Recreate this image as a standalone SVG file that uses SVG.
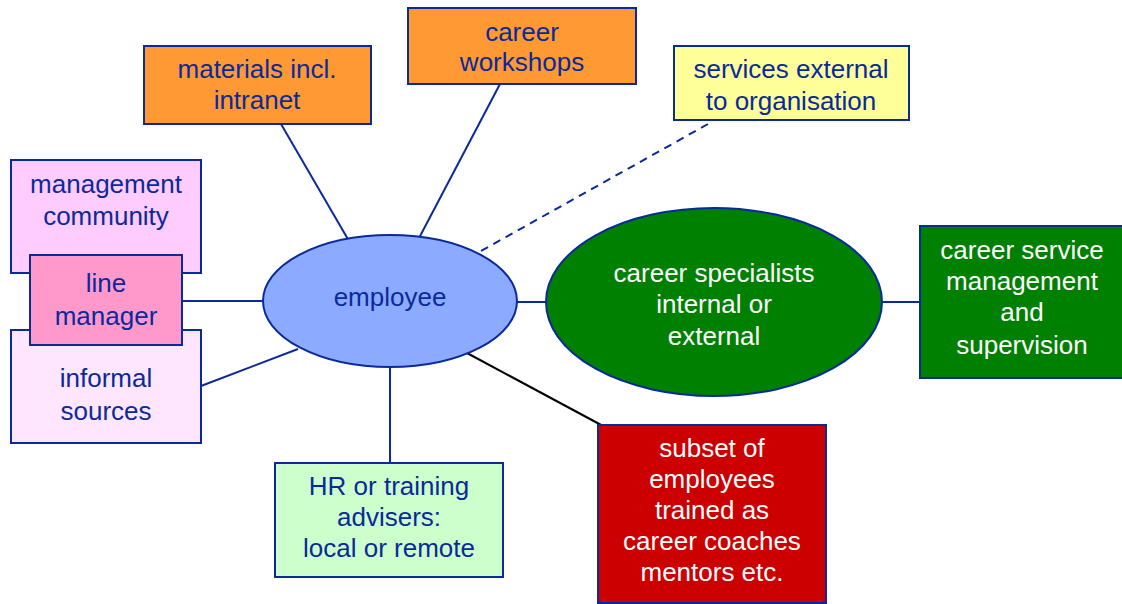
<svg xmlns="http://www.w3.org/2000/svg" width="1122" height="604" viewBox="0 0 1122 604">
<style>
.n{stroke:#0a2a9a;stroke-width:2}
.t{font-family:"Liberation Sans",Arial,sans-serif;font-size:26px;fill:#0a2a9a;text-anchor:middle}
.w{fill:#ffffff}
.c{stroke:#0a2a9a;stroke-width:2;fill:none}
</style>
<rect width="1122" height="604" fill="#ffffff"/>
<g id="connectors">
<line class="c" x1="182" y1="301" x2="264" y2="301"/>
<line class="c" x1="201" y1="386" x2="298" y2="349"/>
<line class="c" x1="281" y1="124" x2="349" y2="241"/>
<line class="c" x1="500" y1="84" x2="418" y2="240"/>
<line class="c" x1="708" y1="124" x2="472" y2="256" stroke-dasharray="8,6"/>
<line class="c" x1="516" y1="302" x2="547" y2="302"/>
<line class="c" x1="881" y1="302" x2="921" y2="302"/>
<line class="c" x1="390" y1="366" x2="390" y2="464"/>
<line x1="467" y1="353" x2="603" y2="426" stroke="#000000" stroke-width="2"/>
</g>
<g id="management-community">
<rect class="n" x="11" y="160" width="190" height="113" fill="#ffccff"/>
<text class="t" x="106" y="193">management</text>
<text class="t" x="106" y="225">community</text>
</g>
<g id="informal-sources">
<rect class="n" x="11" y="330" width="190" height="113" fill="#ffe6ff"/>
<text class="t" x="106" y="387">informal</text>
<text class="t" x="106" y="420">sources</text>
</g>
<g id="line-manager">
<rect class="n" x="30" y="255" width="152" height="90" fill="#ff99cc"/>
<text class="t" x="106" y="292">line</text>
<text class="t" x="106" y="325">manager</text>
</g>
<g id="materials">
<rect class="n" x="144" y="46" width="227" height="78" fill="#ff9933"/>
<text class="t" x="257" y="78">materials incl.</text>
<text class="t" x="257" y="109">intranet</text>
</g>
<g id="workshops">
<rect class="n" x="408" y="8" width="228" height="76" fill="#ff9933"/>
<text class="t" x="522" y="41">career</text>
<text class="t" x="522" y="71">workshops</text>
</g>
<g id="services-external">
<rect class="n" x="674" y="46" width="235" height="74" fill="#ffff99"/>
<text class="t" x="791" y="78">services external</text>
<text class="t" x="791" y="110">to organisation</text>
</g>
<g id="employee">
<ellipse class="n" cx="390" cy="301" rx="127" ry="66" fill="#8caaff"/>
<text class="t" x="390" y="306">employee</text>
</g>
<g id="career-specialists">
<ellipse class="n" cx="714" cy="302" rx="168" ry="94" fill="#008000"/>
<text class="t w" x="714" y="282">career specialists</text>
<text class="t w" x="714" y="313">internal or</text>
<text class="t w" x="714" y="345">external</text>
</g>
<g id="career-service-management">
<rect class="n" x="920" y="226" width="204" height="152" fill="#008000"/>
<text class="t w" x="1022" y="259">career service</text>
<text class="t w" x="1022" y="290">management</text>
<text class="t w" x="1022" y="321">and</text>
<text class="t w" x="1022" y="354">supervision</text>
</g>
<g id="hr-advisers">
<rect class="n" x="275" y="463" width="228" height="114" fill="#ccffcc"/>
<text class="t" x="389" y="495">HR or training</text>
<text class="t" x="389" y="526">advisers:</text>
<text class="t" x="389" y="557">local or remote</text>
</g>
<g id="subset-employees">
<rect class="n" x="598" y="425" width="228" height="178" fill="#cc0000"/>
<text class="t w" x="712" y="457">subset of</text>
<text class="t w" x="712" y="488">employees</text>
<text class="t w" x="712" y="519">trained as</text>
<text class="t w" x="712" y="550">career coaches</text>
<text class="t w" x="712" y="581">mentors etc.</text>
</g>
</svg>
